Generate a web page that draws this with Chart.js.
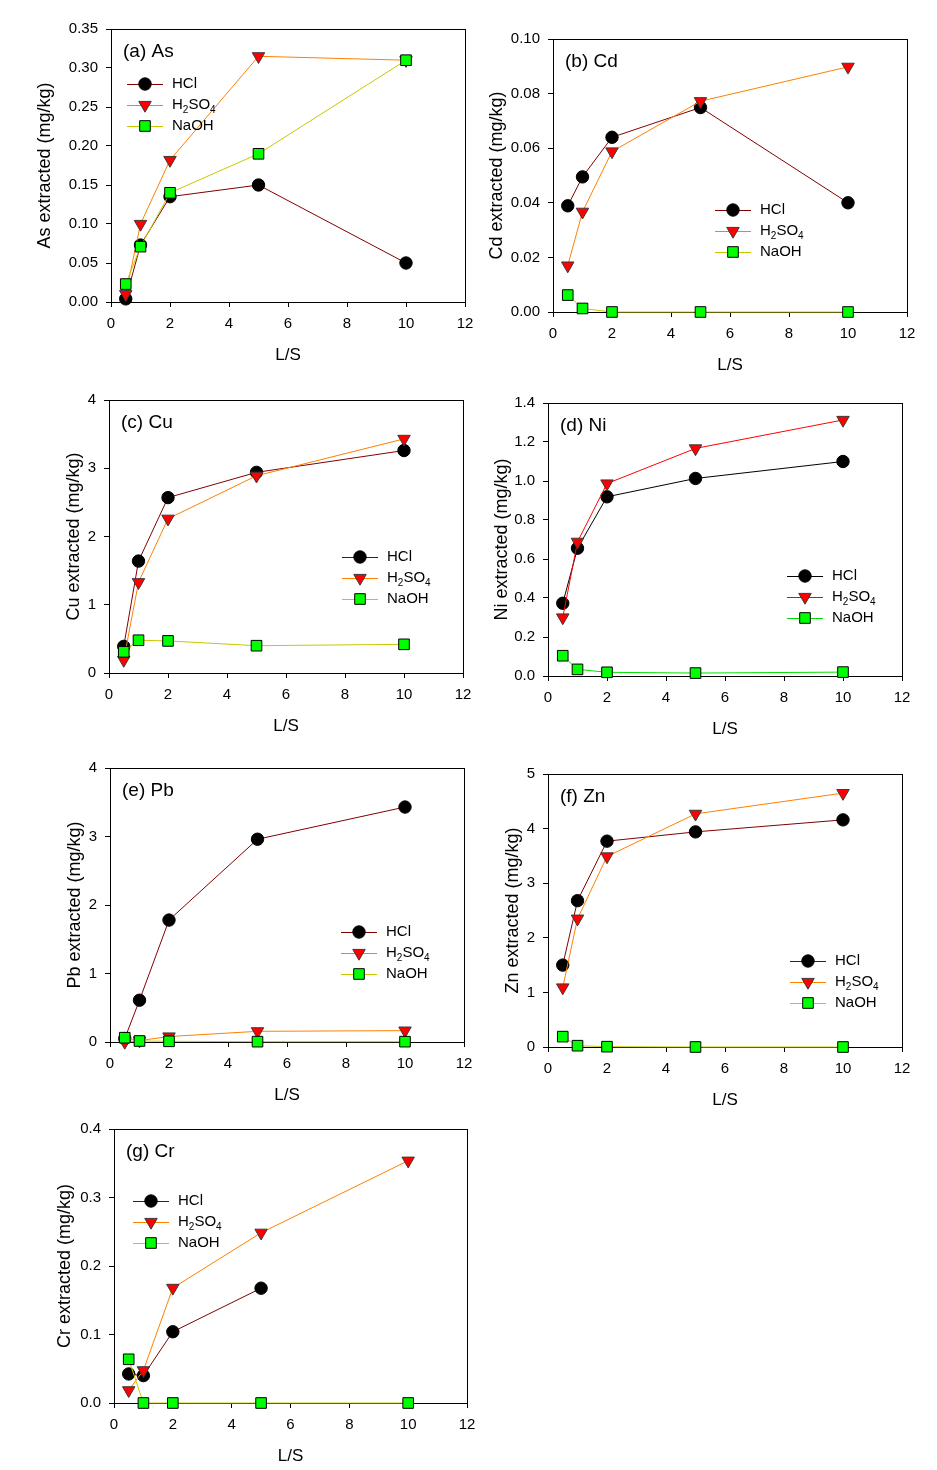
<!DOCTYPE html>
<html>
<head>
<meta charset="utf-8">
<script src="https://cdn.jsdelivr.net/npm/chart.js@4.4.0/dist/chart.umd.min.js"></script>
<style>
  html, body { margin: 0; padding: 0; background: #fff; }
  #page { position: relative; width: 937px; height: 1470px; overflow: hidden; }
  #page canvas { position: absolute; }
</style>
</head>
<body>
<div id="page"></div>
<script>
// ------------------------------------------------------------
// Extraction vs. L/S ratio for seven metals, three extractants.
// Each panel is its own canvas, placed so its plot box lands where
// the original figure has it.
// ------------------------------------------------------------

const LS = [0.5, 1, 2, 5, 10];               // liquid/solid ratio
const X_TICKS = [0, 2, 4, 6, 8, 10, 12];
const SERIES = ["HCl", "H2SO4", "NaOH"];

// (a) As
const AS_TICKS = [0, 0.05, 0.10, 0.15, 0.20, 0.25, 0.30, 0.35];
const AS_HCL   = [0.004, 0.073, 0.135, 0.150, 0.050];
const AS_H2SO4 = [0.010, 0.100, 0.182, 0.315, 0.310];
const AS_NAOH  = [0.023, 0.071, 0.140, 0.190, 0.310];

// (b) Cd
const CD_TICKS = [0, 0.02, 0.04, 0.06, 0.08, 0.10];
const CD_HCL   = [0.0389, 0.0495, 0.0640, 0.0749, 0.0400];
const CD_H2SO4 = [0.0170, 0.0367, 0.0588, 0.0772, 0.0898];
const CD_NAOH  = [0.0062, 0.0013, 0.0000, 0.0000, 0.0000];

// (c) Cu
const CU_TICKS = [0, 1, 2, 3, 4];
const CU_HCL   = [0.39, 1.64, 2.57, 2.94, 3.26];
const CU_H2SO4 = [0.19, 1.33, 2.26, 2.89, 3.43];
const CU_NAOH  = [0.31, 0.48, 0.47, 0.40, 0.42];

// (d) Ni
const NI_TICKS = [0, 0.2, 0.4, 0.6, 0.8, 1.0, 1.2, 1.4];
const NI_HCL   = [0.373, 0.655, 0.919, 1.013, 1.100];
const NI_H2SO4 = [0.300, 0.688, 0.987, 1.167, 1.313];
const NI_NAOH  = [0.104, 0.034, 0.019, 0.015, 0.020];

// (e) Pb
const PB_TICKS = [0, 1, 2, 3, 4];
const PB_HCL   = [0.05, 0.61, 1.78, 2.96, 3.43];
const PB_H2SO4 = [0.00, 0.02, 0.08, 0.156, 0.166];
const PB_NAOH  = [0.063, 0.015, 0.010, 0.005, 0.005];

// (f) Zn
const ZN_TICKS = [0, 1, 2, 3, 4, 5];
const ZN_HCL   = [1.50, 2.68, 3.77, 3.94, 4.16];
const ZN_H2SO4 = [1.09, 2.35, 3.49, 4.27, 4.65];
const ZN_NAOH  = [0.19, 0.024, 0.006, 0.00, 0.00];

// (g) Cr — no HCl point at L/S 10
const CR_TICKS = [0, 0.1, 0.2, 0.3, 0.4];
const CR_HCL   = [0.0424, 0.040, 0.104, 0.1676, null];
const CR_H2SO4 = [0.0185, 0.0477, 0.168, 0.2485, 0.3537];
const CR_NAOH  = [0.0638, 0.000, 0.000, 0.000, 0.000];

// ---------- Styles ----------
const FONT = "Arial, 'Liberation Sans', sans-serif";
const STD_LINES = ["#800000", "#FF8000", "#C8C800"];
const NI_LINES  = ["#000000", "#FF0000", "#00E000"];
const MARKS = [
  { pointStyle: "circle",   radius: 6.2, rotation: 0,   fill: "#000000", stroke: "#000000" },
  { pointStyle: "triangle", radius: 7.2, rotation: 180, fill: "#FF0000", stroke: "#3a3a3a" },
  { pointStyle: "rect",     radius: 7.5, rotation: 0,   fill: "#00FF00", stroke: "#000000" },
];

// plot: [left, top, right, bottom] of the axis box in page pixels
// titleGap: axis line to y-title centre; legend: first marker, relative to plot box
const PANELS = [
  { label: "(a) As", ytitle: "As extracted (mg/kg)", ticks: AS_TICKS, dec: 2,
    series: [AS_HCL, AS_H2SO4, AS_NAOH], lines: STD_LINES,
    plot: [111, 29, 465, 302], titleGap: 66, legend: [34, 55] },
  { label: "(b) Cd", ytitle: "Cd extracted (mg/kg)", ticks: CD_TICKS, dec: 2,
    series: [CD_HCL, CD_H2SO4, CD_NAOH], lines: STD_LINES,
    plot: [553, 39, 907, 312], titleGap: 56, legend: [180, 171] },
  { label: "(c) Cu", ytitle: "Cu extracted (mg/kg)", ticks: CU_TICKS, dec: 0,
    series: [CU_HCL, CU_H2SO4, CU_NAOH], lines: STD_LINES,
    plot: [109, 400, 463, 673], titleGap: 35, legend: [251, 157] },
  { label: "(d) Ni", ytitle: "Ni extracted (mg/kg)", ticks: NI_TICKS, dec: 1,
    series: [NI_HCL, NI_H2SO4, NI_NAOH], lines: NI_LINES,
    plot: [548, 403, 902, 676], titleGap: 46, legend: [257, 173] },
  { label: "(e) Pb", ytitle: "Pb extracted (mg/kg)", ticks: PB_TICKS, dec: 0,
    series: [PB_HCL, PB_H2SO4, PB_NAOH], lines: STD_LINES,
    plot: [110, 768, 464, 1042], titleGap: 35, legend: [249, 164] },
  { label: "(f) Zn", ytitle: "Zn extracted (mg/kg)", ticks: ZN_TICKS, dec: 0,
    series: [ZN_HCL, ZN_H2SO4, ZN_NAOH], lines: STD_LINES,
    plot: [548, 774, 902, 1047], titleGap: 35, legend: [260, 187] },
  { label: "(g) Cr", ytitle: "Cr extracted (mg/kg)", ticks: CR_TICKS, dec: 1,
    series: [CR_HCL, CR_H2SO4, CR_NAOH], lines: STD_LINES,
    plot: [114, 1129, 467, 1403], titleGap: 49, legend: [37, 72] },
];

// Canvas margins around the plot box (fixed via afterFit so boxes line up).
const AX_W = 100, PAD_T = 20, PAD_R = 25, AX_H = 80;
const YTITLE_SIZE = 18;

// ---------- Drawing helpers ----------
function drawMarker(ctx, m, x, y) {
  ctx.save();
  ctx.fillStyle = m.fill; ctx.strokeStyle = m.stroke; ctx.lineWidth = 1;
  ctx.beginPath();
  if (m.pointStyle === "circle") {
    ctx.arc(x, y, m.radius, 0, Math.PI * 2);
  } else if (m.pointStyle === "triangle") {
    const r = m.radius;
    ctx.moveTo(x, y + r);
    ctx.lineTo(x - r * Math.sin(Math.PI / 3), y - r / 2);
    ctx.lineTo(x + r * Math.sin(Math.PI / 3), y - r / 2);
    ctx.closePath();
  } else {
    const s = m.radius * Math.SQRT1_2;
    ctx.rect(x - s, y - s, 2 * s, 2 * s);
  }
  ctx.fill(); ctx.stroke();
  ctx.restore();
}

// Legend text; "H2SO4" gets its digits set as subscripts.
function drawLabel(ctx, text, x, y) {
  const parts = text === "H2SO4"
    ? [["H", 0], ["2", 1], ["SO", 0], ["4", 1]]
    : [[text, 0]];
  ctx.textBaseline = "middle";
  ctx.textAlign = "left";
  for (const [s, sub] of parts) {
    ctx.font = (sub ? "10px " : "15px ") + FONT;
    ctx.fillText(s, x, y + (sub ? 5 : 0));
    x += ctx.measureText(s).width;
  }
}

const panelDecor = {
  id: "panelDecor",
  beforeDatasetsDraw(chart) {
    const { ctx, chartArea: a } = chart;
    ctx.save();
    ctx.strokeStyle = "#000"; ctx.lineWidth = 1;
    ctx.strokeRect(Math.round(a.left) + 0.5, Math.round(a.top) + 0.5,
      Math.round(a.right - a.left), Math.round(a.bottom - a.top));
    ctx.restore();
  },
  afterDraw(chart, args, opts) {
    const { ctx, chartArea: a } = chart;
    const p = opts.panel;
    ctx.save();
    ctx.fillStyle = "#000";
    ctx.font = "19px " + FONT;
    ctx.textBaseline = "middle";
    ctx.fillText(p.label, a.left + 12, a.top + 23);

    const [lx, ly] = p.legend;
    SERIES.forEach((name, i) => {
      const mx = a.left + lx, my = a.top + ly + i * 21;
      ctx.strokeStyle = p.lines[i]; ctx.lineWidth = 1;
      ctx.beginPath(); ctx.moveTo(mx - 18, my + 0.5); ctx.lineTo(mx + 18, my + 0.5); ctx.stroke();
      drawMarker(ctx, MARKS[i], mx, my);
      ctx.fillStyle = "#000";
      drawLabel(ctx, name, mx + 27, my);
    });
    ctx.restore();
  }
};

function setTicks(values) {
  return scale => { scale.ticks = values.map(v => ({ value: v })); };
}

function makePanel(p) {
  const [L, T, R, B] = p.plot;
  const w = R - L + AX_W + PAD_R, h = B - T + PAD_T + AX_H;
  const cv = document.createElement("canvas");
  cv.width = w; cv.height = h;
  cv.style.left = (L - AX_W) + "px"; cv.style.top = (T - PAD_T) + "px";
  cv.style.width = w + "px"; cv.style.height = h + "px";
  document.getElementById("page").appendChild(cv);

  const datasets = SERIES.map((name, i) => ({
    label: name,
    data: LS.map((x, k) => ({ x, y: p.series[i][k] })),
    borderColor: p.lines[i], borderWidth: 1,
    pointStyle: MARKS[i].pointStyle, pointRotation: MARKS[i].rotation,
    pointRadius: MARKS[i].radius, pointHoverRadius: MARKS[i].radius,
    pointBackgroundColor: MARKS[i].fill, pointBorderColor: MARKS[i].stroke, pointBorderWidth: 1,
    tension: 0, clip: false, spanGaps: false,
    order: 2 - i,          // NaOH drawn last, on top
  }));

  const axisFont = { size: 15, family: FONT };
  new Chart(cv, {
    type: "line",
    data: { datasets },
    plugins: [panelDecor],
    options: {
      responsive: false, animation: false, devicePixelRatio: 1,
      layout: { padding: { top: PAD_T, right: PAD_R, left: 0, bottom: 0 } },
      plugins: { legend: { display: false }, tooltip: { enabled: false }, panelDecor: { panel: p } },
      scales: {
        x: {
          type: "linear", min: 0, max: 12,
          afterBuildTicks: setTicks(X_TICKS),
          afterFit: s => { s.height = AX_H; },
          grid: { drawOnChartArea: false, drawTicks: true, tickLength: 5, color: "#000" },
          border: { color: "#000", width: 1 },
          ticks: { color: "#000", font: axisFont, padding: 8, maxRotation: 0, autoSkip: false },
          title: { display: true, text: "L/S", color: "#000", font: { size: 17, family: FONT },
                   padding: { top: 0, bottom: 16 } },
        },
        y: {
          min: p.ticks[0], max: p.ticks[p.ticks.length - 1],
          afterBuildTicks: setTicks(p.ticks),
          afterFit: s => { s.width = AX_W; },
          grid: { drawOnChartArea: false, drawTicks: true, tickLength: 5, color: "#000" },
          border: { color: "#000", width: 1 },
          ticks: { color: "#000", font: axisFont, padding: 8, autoSkip: false,
                   callback: v => Number(v).toFixed(p.dec) },
          title: { display: true, text: p.ytitle, color: "#000", font: { size: YTITLE_SIZE, family: FONT },
                   padding: { top: AX_W - p.titleGap - YTITLE_SIZE * 0.6, bottom: 0 } },
        },
      },
    },
  });
}

PANELS.forEach(makePanel);
</script>
</body>
</html>
